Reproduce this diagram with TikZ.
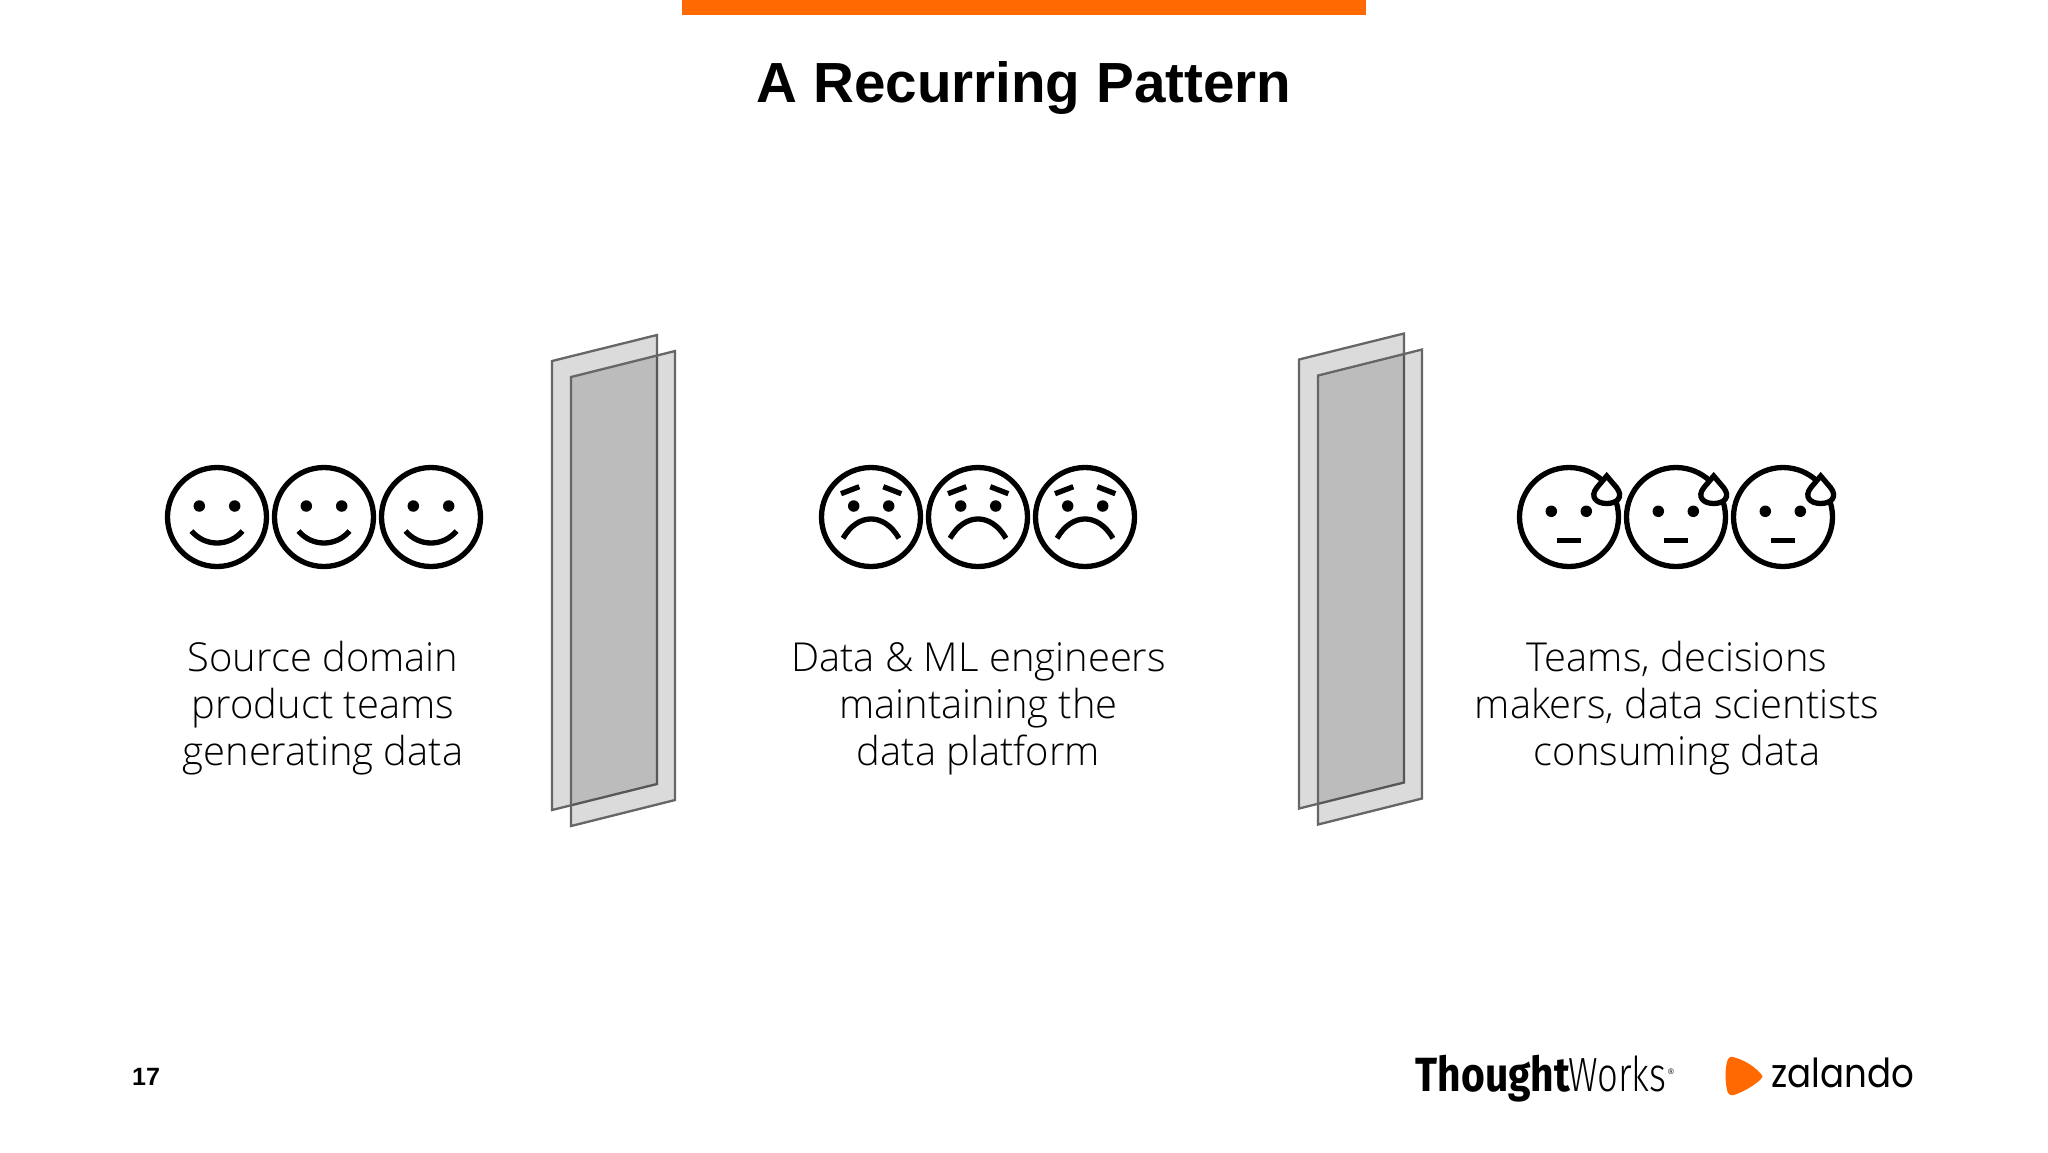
\documentclass[tikz,border=0pt]{standalone}
\usepackage{fontspec}
\setmainfont{Open Sans Light}
\newfontfamily\arialfont{Liberation Sans}
\newfontfamily\firafont{Fira Sans}
\newfontfamily\firalight{Fira Sans Light}
\newfontfamily\popfont{Poppins}
\definecolor{zorange}{HTML}{FF6900}
\definecolor{panelline}{HTML}{666666}
\begin{document}
\begin{tikzpicture}[x=1pt, y=-1pt,
		line/.style={line width=5.3pt, black},
		eye/.style={circle, fill=black, inner sep=0pt, minimum size=11.5pt},
		face/.style={circle, draw=black, line width=5.3pt, inner sep=0pt, minimum size=99pt},
		caption/.style={align=center, font=\fontsize{39.9}{47}\selectfont, inner sep=0pt},
		panel/.style={draw=panelline, line width=2.3pt, fill=black, fill opacity=0.14}]
	\useasboundingbox (0, 0) rectangle (2048, 1152);
	\fill[white] (0, 0) rectangle (2048, 1152);
	\fill[zorange] (682, 0) rectangle (1366, 15);

	\node[font=\arialfont\bfseries\fontsize{56.6}{60}\selectfont, inner sep=0pt, anchor=base] (title) at (1024, 102.5) {A Recurring Pattern};

	\foreach \x/\y in {552/361, 1299/359.5} {
		\draw[panel] (\x, \y) -- ++(105, -26) -- ++(0, 449) -- ++(-105, 26) -- cycle;
		\draw[panel] (\x + 19, \y + 16) -- ++(104, -26) -- ++(0, 449) -- ++(-104, 26) -- cycle;
	}

	\foreach \x [count=\i] in {217, 324, 431} {
		\node[face] (happy\i) at (\x, 517) {};
		\node[eye] (happyl\i) at (\x - 17.7, 506) {};
		\node[eye] (happyr\i) at (\x + 17.7, 506) {};
		\draw[line] (\x - 25.5, 531) .. controls (\x - 12, 547) and (\x + 12, 547) .. (\x + 25.5, 531);
	}

	\foreach \x [count=\i] in {871, 978, 1085} {
		\node[face] (sad\i) at (\x, 517) {};
		\node[eye] (sadl\i) at (\x - 17.3, 506) {};
		\node[eye] (sadr\i) at (\x + 17.7, 506) {};
		\draw[line] (\x - 30, 493.7) -- (\x - 11.7, 486.7);
		\draw[line] (\x + 12.3, 486.7) -- (\x + 30.3, 493.7);
		\draw[line] (\x - 28, 538.3) .. controls (\x - 13, 512.5) and (\x + 13, 512.5) .. (\x + 28, 538.3);
	}

	\foreach \x [count=\i] in {1569, 1676, 1783} {
		\node[face] (sweat\i) at (\x, 517) {};
		\node[eye] (sweatl\i) at (\x - 17.7, 511.3) {};
		\node[eye] (sweatr\i) at (\x + 17.3, 511.3) {};
		\draw[line] (\x - 11.7, 540.7) -- (\x + 11.7, 540.7);
		\draw[line, fill=white, line join=miter] (\x + 37.7, 476) -- (\x + 47.5, 487.5) .. controls (\x + 55, 497) and (\x + 48, 503.5) .. (\x + 37.7, 503.5) .. controls (\x + 27.4, 503.5) and (\x + 20.4, 497) .. (\x + 27.9, 487.5) -- cycle;
	}

	\node[caption] (source) at (323, 708.5) {Source domain\\product teams\\generating data};
	\node[caption] (engineers) at (978.5, 708.5) {Data \& ML engineers\\maintaining the\\data platform};
	\node[caption] (consumers) at (1677, 708.5) {Teams, decisions\\makers, data scientists\\consuming data};

	\node[font=\arialfont\bfseries\fontsize{25}{28}\selectfont, inner sep=0pt, anchor=base west] (page) at (132, 1085) {17};

	\node[xscale=0.85, inner sep=0pt, anchor=base west, font=\firafont\bfseries\fontsize{48}{50}\selectfont] (thought) at (1415.5, 1091) {Thought};
	\node[xscale=0.76, inner sep=0pt, anchor=base west, font=\firalight\fontsize{48}{50}\selectfont] (works) at (1568, 1091) {Works};
	\node[font=\arialfont\fontsize{8}{10}\selectfont, inner sep=0pt] (tm) at (1671, 1072) {®};

	\fill[zorange] (1733, 1057) .. controls (1745, 1060) and (1755, 1067) .. (1761, 1074) .. controls (1763, 1076) and (1763, 1077) .. (1761, 1079) .. controls (1755, 1085) and (1745, 1091) .. (1734, 1095) .. controls (1730, 1096) and (1728, 1094) .. (1727, 1090) .. controls (1725, 1080) and (1725, 1070) .. (1727, 1062) .. controls (1728, 1058) and (1730, 1056) .. cycle;
	\node[xscale=0.89, font=\popfont\fontsize{40}{45}\selectfont, inner sep=0pt, anchor=base west] (zalando) at (1771, 1087) {zalando};
\end{tikzpicture}
\end{document}
